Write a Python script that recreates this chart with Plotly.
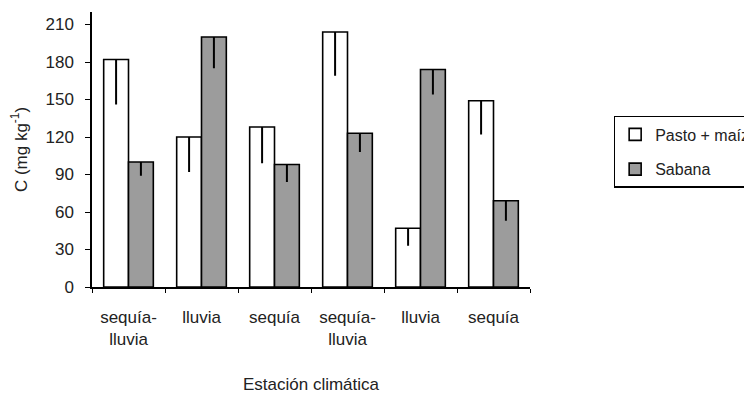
import plotly.graph_objects as go

categories = ["sequía-<br>lluvia", "lluvia", "sequía", "sequía-<br>lluvia", "lluvia", "sequía"]
cat_ids = ["c1", "c2", "c3", "c4", "c5", "c6"]
pasto_maiz = [182, 120, 128, 204, 47, 149]
pasto_maiz_err = [36, 28, 29, 35, 14, 27]
sabana = [100, 200, 98, 123, 174, 69]
sabana_err = [11, 25, 14, 15, 20, 16]
y_ticks = [0, 30, 60, 90, 120, 150, 180, 210]

FONT = "Arial, Liberation Sans, sans-serif"
TXT = "#222"

fig = go.Figure()
fig.add_trace(go.Bar(
    x=cat_ids, y=pasto_maiz, name="Pasto + maíz", legendgroup="a",
    marker=dict(color="white", line=dict(color="black", width=1.6)),
    error_y=dict(type="data", symmetric=False, array=[0]*6, arrayminus=pasto_maiz_err,
                 color="black", thickness=2, width=0),
))
fig.add_trace(go.Bar(
    x=cat_ids, y=sabana, name="Sabana", legendgroup="b",
    marker=dict(color="#9c9c9c", line=dict(color="black", width=1.6)),
    error_y=dict(type="data", symmetric=False, array=[0]*6, arrayminus=sabana_err,
                 color="black", thickness=2, width=0),
))

fig.update_layout(
    width=752, height=393,
    margin=dict(l=84, r=228, t=4, b=114),
    paper_bgcolor="white", plot_bgcolor="white",
    font=dict(family=FONT, size=16, color=TXT),
    barmode="group", bargap=0.32, bargroupgap=0,
    showlegend=True,
    legend=dict(x=1.191, y=0.622, xanchor="left", yanchor="top",
                bordercolor="black", borderwidth=1.5, bgcolor="white",
                font=dict(family=FONT, size=16, color=TXT),
                tracegroupgap=11, itemwidth=30),
    xaxis=dict(
        automargin=False,
        tickmode="array", tickvals=cat_ids, ticktext=categories,
        showline=True, linecolor="black", linewidth=1.5,
        ticks="outside", tickson="boundaries", ticklen=4, tickcolor="black",
        ticklabelstandoff=14,
        tickfont=dict(family=FONT, size=17, color=TXT),
        title=dict(text="Estación climática", font=dict(family=FONT, size=17, color=TXT), standoff=30),
        showgrid=False, zeroline=False,
    ),
    yaxis=dict(
        automargin=False,
        range=[0, 220], tickvals=y_ticks,
        showline=True, linecolor="black", linewidth=1.5,
        ticks="outside", ticklen=5, tickcolor="black",
        ticklabelstandoff=8,
        tickfont=dict(family=FONT, size=17, color=TXT),
        title=dict(text="C (mg kg<sup>-1</sup>)", font=dict(family=FONT, size=17, color=TXT), standoff=14),
        showgrid=False, zeroline=False,
    ),
)

fig.write_html("out.html")
